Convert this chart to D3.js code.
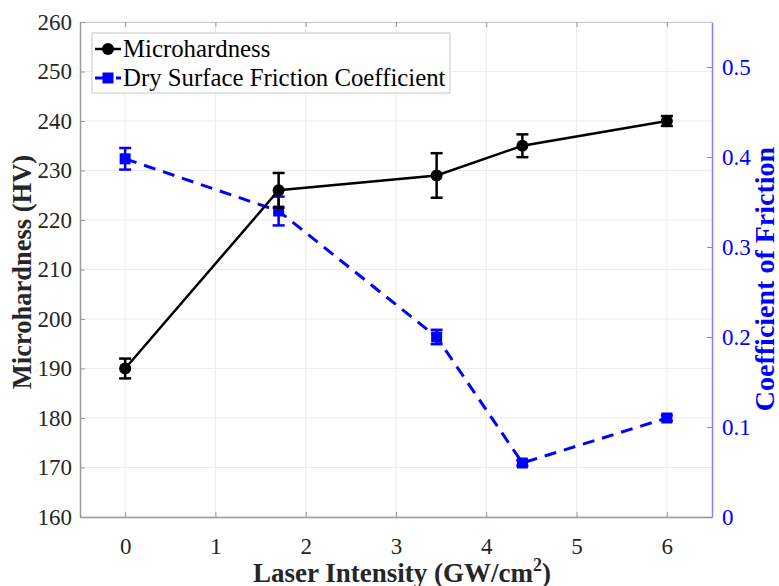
<html>
  <head>
    <script src="https://d3js.org/d3.v7.min.js"></script>
    <style>
      body{ margin: 0; background: #fff; }
      text{ font-family: "Liberation Serif", "Times New Roman", serif; }
    </style>
  </head>
  <body>
    <svg width="779" height="586"></svg>
    <script>
    // data
    var intensity = [0, 1.7, 3.45, 4.4, 6];
    var hardness = [190, 226, 229, 235, 240];
    var hardnessErr = [2, 3.5, 4.5, 2.3, 1];
    var friction = [0.398, 0.34, 0.2, 0.06, 0.11];
    var frictionErr = [0.012, 0.016, 0.008, 0.003, 0.003];
    var xTicks = [0, 1, 2, 3, 4, 5, 6];
    var yTicks = [160, 170, 180, 190, 200, 210, 220, 230, 240, 250, 260];
    var y2Ticks = [0, 0.1, 0.2, 0.3, 0.4, 0.5];

    var svg = d3.select("svg");
    var pL = 80, pR = 712, pT = 22, pB = 517;
    var blue = "#0000ff", ink = "#262626";

    var x = d3.scaleLinear().domain([-0.5, 6.5]).range([pL, pR]);
    var y = d3.scaleLinear().domain([160, 260]).range([pB, pT]);
    var y2 = d3.scaleLinear().domain([0, 0.55]).range([pB, pT]);

    // grid
    var grid = svg.append("g").attr("stroke", "#ebebeb").attr("stroke-width", 1);
    grid.selectAll(".gx").data(xTicks).enter().append("line")
      .attr("x1", function(d){ return x(d); }).attr("x2", function(d){ return x(d); })
      .attr("y1", pT).attr("y2", pB);
    grid.selectAll(".gy").data(yTicks).enter().append("line")
      .attr("x1", pL).attr("x2", pR)
      .attr("y1", function(d){ return y(d); }).attr("y2", function(d){ return y(d); });

    // box top
    svg.append("line").attr("x1", pL).attr("x2", pR).attr("y1", pT + 0.5).attr("y2", pT + 0.5)
      .attr("stroke", "#c8c8c8");

    // bottom axis
    var xa = svg.append("g").attr("transform", "translate(0," + pB + ")")
      .call(d3.axisBottom(x).tickValues(xTicks).tickFormat(d3.format("d")).tickSizeInner(-5).tickSizeOuter(0).tickPadding(21));
    xa.select(".domain").attr("stroke", "#9a9a9a").attr("stroke-width", 1.5);
    xa.selectAll(".tick line").attr("stroke", "#9a9a9a");
    xa.selectAll("text").attr("font-size", 23).attr("fill", ink).attr("font-family", "Liberation Serif");
    // top ticks
    var xt = svg.append("g").attr("transform", "translate(0," + pT + ")")
      .call(d3.axisTop(x).tickValues(xTicks).tickSizeInner(-5).tickSizeOuter(0).tickFormat(""));
    xt.select(".domain").remove();
    xt.selectAll(".tick line").attr("stroke", "#9a9a9a");

    // left axis
    var ya = svg.append("g").attr("transform", "translate(" + pL + ",0)")
      .call(d3.axisLeft(y).tickValues(yTicks).tickFormat(d3.format("d")).tickSizeInner(-5).tickSizeOuter(0).tickPadding(8));
    ya.select(".domain").attr("stroke", "#9a9a9a").attr("stroke-width", 1.5);
    ya.selectAll(".tick line").attr("stroke", "#9a9a9a");
    ya.selectAll("text").attr("font-size", 23).attr("fill", ink).attr("font-family", "Liberation Serif");

    // right axis
    var yb = svg.append("g").attr("transform", "translate(" + pR + ",0)")
      .call(d3.axisRight(y2).tickValues(y2Ticks).tickSizeInner(-5).tickSizeOuter(0).tickPadding(10)
        .tickFormat(function(d){ return d === 0 ? "0" : d3.format(".1f")(d); }));
    yb.select(".domain").attr("stroke", "#8080ff").attr("stroke-width", 1.5);
    yb.selectAll(".tick line").attr("stroke", "#8080ff");
    yb.selectAll("text").attr("font-size", 23).attr("fill", blue).attr("font-family", "Liberation Serif");

    // friction series
    var idx = d3.range(intensity.length);
    svg.append("path").datum(idx)
      .attr("fill", "none").attr("stroke", blue).attr("stroke-width", 3)
      .attr("stroke-dasharray", "12,8")
      .attr("d", d3.line().x(function(i){ return x(intensity[i]); }).y(function(i){ return y2(friction[i]); }));
    var fe = svg.append("g").attr("stroke", blue).attr("stroke-width", 2.5);
    idx.forEach(function(i){
      var cx = x(intensity[i]), hi = y2(friction[i] + frictionErr[i]), lo = y2(friction[i] - frictionErr[i]);
      fe.append("line").attr("x1", cx).attr("x2", cx).attr("y1", hi).attr("y2", lo);
      fe.append("line").attr("x1", cx - 6).attr("x2", cx + 6).attr("y1", hi).attr("y2", hi);
      fe.append("line").attr("x1", cx - 6).attr("x2", cx + 6).attr("y1", lo).attr("y2", lo);
    });
    svg.selectAll(".sq").data(idx).enter().append("rect")
      .attr("x", function(i){ return x(intensity[i]) - 5.5; })
      .attr("y", function(i){ return y2(friction[i]) - 5.5; })
      .attr("width", 11).attr("height", 11).attr("fill", blue);

    // hardness series
    svg.append("path").datum(idx)
      .attr("fill", "none").attr("stroke", "#000").attr("stroke-width", 2.5)
      .attr("d", d3.line().x(function(i){ return x(intensity[i]); }).y(function(i){ return y(hardness[i]); }));
    var he = svg.append("g").attr("stroke", "#000").attr("stroke-width", 2.5);
    idx.forEach(function(i){
      var cx = x(intensity[i]), hi = y(hardness[i] + hardnessErr[i]), lo = y(hardness[i] - hardnessErr[i]);
      he.append("line").attr("x1", cx).attr("x2", cx).attr("y1", hi).attr("y2", lo);
      he.append("line").attr("x1", cx - 6).attr("x2", cx + 6).attr("y1", hi).attr("y2", hi);
      he.append("line").attr("x1", cx - 6).attr("x2", cx + 6).attr("y1", lo).attr("y2", lo);
    });
    svg.selectAll(".ci").data(idx).enter().append("circle")
      .attr("cx", function(i){ return x(intensity[i]); })
      .attr("cy", function(i){ return y(hardness[i]); })
      .attr("r", 6).attr("fill", "#000");

    // legend
    var lg = svg.append("g");
    lg.append("rect").attr("x", 92).attr("y", 33).attr("width", 358).attr("height", 60)
      .attr("fill", "#fff").attr("stroke", "#c8c8c8").attr("stroke-width", 1);
    lg.append("line").attr("x1", 95).attr("x2", 121).attr("y1", 49).attr("y2", 49)
      .attr("stroke", "#000").attr("stroke-width", 2.5);
    lg.append("circle").attr("cx", 108).attr("cy", 49).attr("r", 6).attr("fill", "#000");
    lg.append("line").attr("x1", 95).attr("x2", 121).attr("y1", 78).attr("y2", 78)
      .attr("stroke", blue).attr("stroke-width", 3).attr("stroke-dasharray", "8,5,3,5");
    lg.append("rect").attr("x", 102.5).attr("y", 72.5).attr("width", 11).attr("height", 11).attr("fill", blue);
    lg.append("text").attr("x", 123).attr("y", 57).attr("font-size", 24.8).attr("fill", "#000").text("Microhardness");
    lg.append("text").attr("x", 123).attr("y", 86).attr("font-size", 24.8).attr("fill", "#000").text("Dry Surface Friction Coefficient");

    // axis titles
    svg.append("text").attr("transform", "translate(31,272) rotate(-90)")
      .attr("text-anchor", "middle").attr("font-size", 26.5).attr("font-weight", "bold").attr("fill", ink)
      .text("Microhardness (HV)");
    svg.append("text").attr("transform", "translate(774,279) rotate(-90)")
      .attr("text-anchor", "middle").attr("font-size", 28).attr("font-weight", "bold").attr("fill", blue)
      .text("Coefficient of Friction");
    var xl = svg.append("text").attr("x", 402).attr("y", 582).attr("text-anchor", "middle")
      .attr("font-size", 27).attr("font-weight", "bold").attr("fill", ink);
    xl.append("tspan").text("Laser Intensity (GW/cm");
    xl.append("tspan").attr("dy", -11).attr("font-size", 18).text("2");
    xl.append("tspan").attr("dy", 11).text(")");
    </script>
  </body>
</html>
